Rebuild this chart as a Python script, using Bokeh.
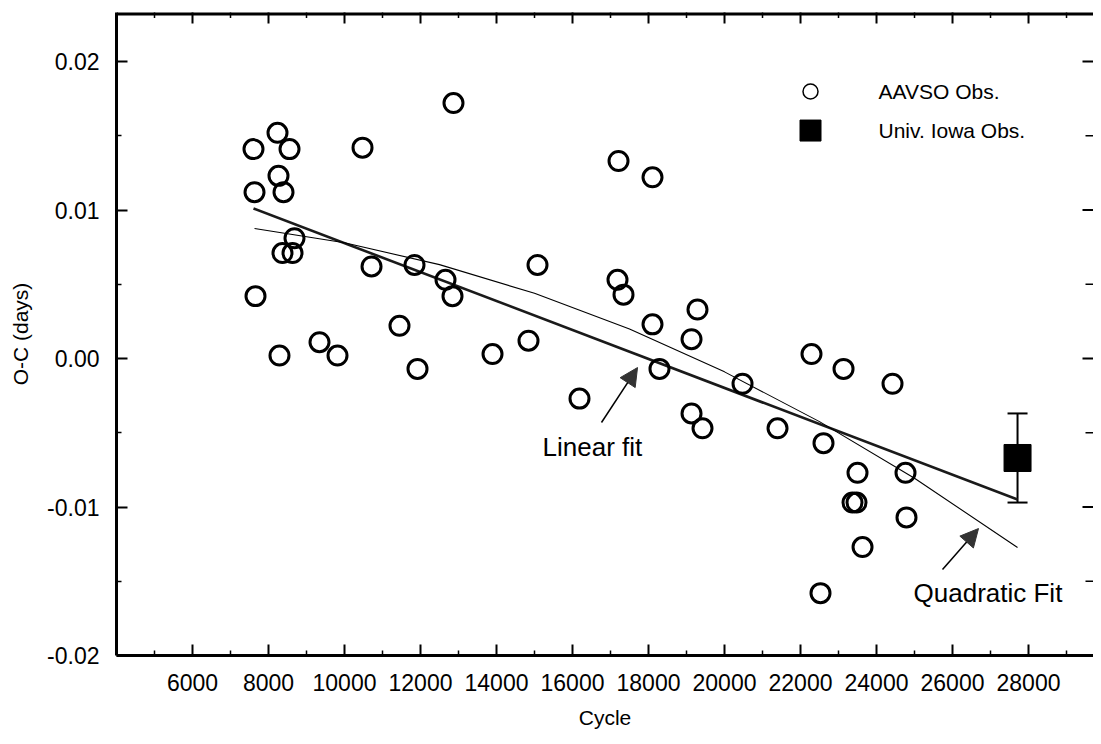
import math
from bokeh.plotting import figure
from bokeh.models import (Range1d, FixedTicker, PrintfTickFormatter,
                          Whisker, TeeHead, Arrow, NormalHead, Label, ColumnDataSource)
from bokeh.embed import file_html
from bokeh.resources import INLINE

# ---------------- data ----------------
aavso_cycle = [7605, 7632, 7658, 8237, 8263, 8553, 8395, 8368, 8632, 8684,
               8289, 9342, 9816, 10474, 10711, 11447, 11842, 11921, 12658, 12842,
               12868, 13895, 14842, 15079, 16184, 17184, 17342, 17211, 18105, 18105,
               18289, 19132, 19289, 19132, 19421, 20474, 21395, 22289, 22605, 23132,
               23500, 23368, 23474, 23632, 22526, 24421, 24763, 24789]
aavso_oc = [0.0141, 0.0112, 0.0042, 0.0152, 0.0123, 0.0141, 0.0112, 0.0071, 0.0071, 0.0081,
            0.0002, 0.0011, 0.0002, 0.0142, 0.0062, 0.0022, 0.0063, -0.0007, 0.0053, 0.0042,
            0.0172, 0.0003, 0.0012, 0.0063, -0.0027, 0.0053, 0.0043, 0.0133, 0.0122, 0.0023,
            -0.0007, 0.0013, 0.0033, -0.0037, -0.0047, -0.0017, -0.0047, 0.0003, -0.0057, -0.0007,
            -0.0077, -0.0097, -0.0097, -0.0127, -0.0158, -0.0017, -0.0077, -0.0107]

iowa_cycle = [27711]
iowa_oc = [-0.0067]
iowa_err = [0.0030]

linear_cycle = [7605, 27711]
linear_oc = [0.0101, -0.0095]

quad_cycle = [7632, 10000, 12500, 15000, 17500, 20000, 22500, 25000, 27711]
quad_oc = [0.00875, 0.00779, 0.00632, 0.00439, 0.00198, -0.0009, -0.00425, -0.00806, -0.01273]

x_ticks = [6000, 8000, 10000, 12000, 14000, 16000, 18000, 20000, 22000, 24000, 26000, 28000]
x_minor = [5000, 7000, 9000, 11000, 13000, 15000, 17000, 19000, 21000, 23000, 25000, 27000, 29000]
y_ticks = [-0.02, -0.01, 0.0, 0.01, 0.02]
y_minor = [-0.015, -0.005, 0.005, 0.015]

legend_labels = ["AAVSO Obs.", "Univ. Iowa Obs."]
fit_labels = ["Linear fit", "Quadratic Fit"]

FONT = "Liberation Sans"
X_START, X_END = 4000, 29710
Y_START, Y_END = -0.02, 0.0233

p = figure(width=1093, height=736,
           x_range=Range1d(X_START, X_END), y_range=Range1d(Y_START, Y_END),
           output_backend="svg", toolbar_location=None,
           min_border_left=116, min_border_top=12, min_border_right=0, min_border_bottom=81,
           x_axis_label="Cycle", y_axis_label="O-C (days)")
p.outline_line_color = None
p.grid.visible = False
p.background_fill_color = "white"
p.border_fill_color = "white"


def style(ax):
    ax.axis_line_width = 3
    ax.axis_line_color = "black"
    ax.major_tick_in = 11
    ax.major_tick_out = 0
    ax.minor_tick_in = 5
    ax.minor_tick_out = 0
    ax.major_tick_line_width = 2
    ax.minor_tick_line_width = 1.5
    ax.major_label_text_font = FONT
    ax.major_label_text_color = "black"
    ax.major_label_text_font_size = "23px"
    ax.axis_label_text_font = FONT
    ax.axis_label_text_font_style = "normal"
    ax.axis_label_text_color = "black"
    ax.axis_label_text_font_size = "21px"


xa = p.xaxis[0]
xa.ticker = FixedTicker(ticks=x_ticks, minor_ticks=x_minor)
xa.formatter = PrintfTickFormatter(format="%d")
style(xa)
xa.major_label_standoff = 18
xa.axis_label_standoff = 12

ya = p.yaxis[0]
ya.ticker = FixedTicker(ticks=y_ticks, minor_ticks=y_minor)
ya.formatter = PrintfTickFormatter(format="%.2f")
style(ya)
ya.major_label_standoff = 17
ya.axis_label_standoff = 12

# top frame line and inward ticks on top / right edges (clipped to the frame)
p.line([X_START, X_END], [Y_END, Y_END], line_color="black", line_width=6)
p.scatter(x_ticks, [Y_END] * len(x_ticks), marker="dash", angle=math.pi / 2,
          size=22, line_color="black", line_width=2)
p.scatter(x_minor, [Y_END] * len(x_minor), marker="dash", angle=math.pi / 2,
          size=11, line_color="black", line_width=1.5)
p.scatter([X_END] * len(y_ticks), y_ticks, marker="dash", size=22,
          line_color="black", line_width=2)
p.scatter([X_END] * len(y_minor), y_minor, marker="dash", size=16,
          line_color="black", line_width=1.5)

# fits
p.line(linear_cycle, linear_oc, line_color="#1a1a1a", line_width=2.6)
p.line(quad_cycle, quad_oc, line_color="black", line_width=1.1)

# data
p.scatter(aavso_cycle, aavso_oc, marker="circle", size=19, fill_color=None,
          line_color="black", line_width=3)

src = ColumnDataSource(dict(
    x=iowa_cycle, y=iowa_oc,
    upper=[v + e for v, e in zip(iowa_oc, iowa_err)],
    lower=[v - e for v, e in zip(iowa_oc, iowa_err)]))
p.add_layout(Whisker(source=src, base="x", upper="upper", lower="lower",
                     dimension="height", line_width=2, line_color="black",
                     upper_head=TeeHead(size=20, line_width=2, line_color="black"),
                     lower_head=TeeHead(size=20, line_width=2, line_color="black")))
p.scatter("x", "y", source=src, marker="square", size=27,
          fill_color="black", line_color="black")

# legend (drawn by hand, no box)
p.scatter([22263], [0.01798], marker="circle", size=15, fill_color=None,
          line_color="black", line_width=1.5)
p.scatter([22263], [0.01535], marker="square", size=21, fill_color="black",
          line_color="black")
for lab, yy in zip(legend_labels, [0.01798, 0.01535]):
    p.add_layout(Label(x=24053, y=yy, text=lab, text_font=FONT, text_font_size="21px",
                       text_baseline="middle", text_align="left", text_color="black"))

# annotations
p.add_layout(Arrow(end=NormalHead(size=18, fill_color="#333333", line_color="#333333"),
                   x_start=16763, y_start=-0.00431, x_end=17711, y_end=-0.00061,
                   line_width=1.5, line_color="black"))
p.add_layout(Arrow(end=NormalHead(size=18, fill_color="#333333", line_color="#333333"),
                   x_start=25737, y_start=-0.01421, x_end=26684, y_end=-0.01145,
                   line_width=1.5, line_color="black"))
p.add_layout(Label(x=15211, y=-0.00593, text=fit_labels[0], text_font=FONT,
                   text_font_size="26px", text_baseline="middle", text_align="left",
                   text_color="black"))
p.add_layout(Label(x=24974, y=-0.01576, text=fit_labels[1], text_font=FONT,
                   text_font_size="26px", text_baseline="middle", text_align="left",
                   text_color="black"))

open("out.html", "w").write(file_html(p, INLINE))
